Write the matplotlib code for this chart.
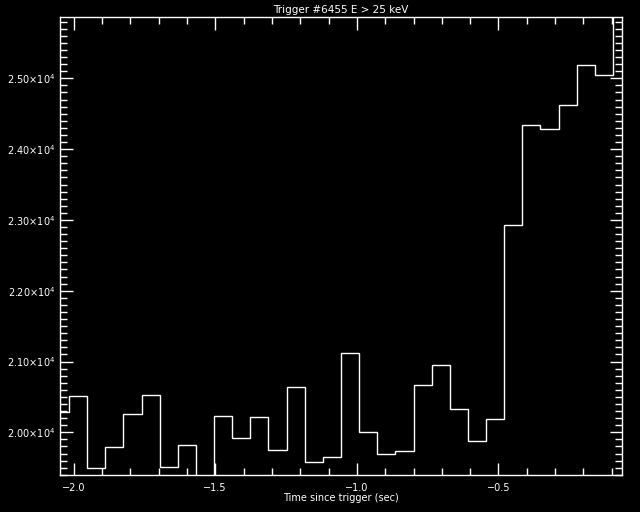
import numpy as np
import matplotlib
matplotlib.use("Agg")
import matplotlib.pyplot as plt
from matplotlib.ticker import MultipleLocator, FuncFormatter

# Bin edges: 0.064 s bins
bin_start = -2.080
bin_width = 0.064
counts = [20291, 20513, 19492, 19788, 20258, 20527, 19506, 19816,
          19340, 20230, 19915, 20212, 19746, 20636, 19576, 19647,
          21116, 20004, 19689, 19736, 20668, 20946, 20325, 19877,
          20184, 22924, 24336, 24280, 24619, 25184, 25042, 26100]
title = "Trigger #6455 E > 25 keV"
xlabel = "Time since trigger (sec)"
ylabel = "Counts per 0.064 sec"
xlim = (-2.048, -0.064)
ylim = (19397, 25866)

edges = bin_start + bin_width * np.arange(len(counts) + 1)

fg = "white"
fig = plt.figure(figsize=(6.4, 5.12), dpi=100, facecolor="black")
ax = fig.add_axes([60/640, 1-475/512, (622-60)/640, (475-17)/512], facecolor="black")

ax.stairs(counts, edges, color=fg, lw=1.0, baseline=None)
ax.set_xlim(*xlim)
ax.set_ylim(*ylim)

for s in ax.spines.values():
    s.set_color(fg)
    s.set_linewidth(1.0)

ax.xaxis.set_major_locator(MultipleLocator(0.5))
ax.xaxis.set_minor_locator(MultipleLocator(0.1))
ax.yaxis.set_major_locator(MultipleLocator(1000))
ax.yaxis.set_minor_locator(MultipleLocator(100))

def yfmt(v, pos):
    return r"%.2f$\times$10$^{4}$" % (v / 1e4)

def xfmt(v, pos):
    return ("%.1f" % v).replace("-", "\u2212")

ax.yaxis.set_major_formatter(FuncFormatter(yfmt))
ax.xaxis.set_major_formatter(FuncFormatter(xfmt))

ax.tick_params(which="both", direction="in", top=True, right=True,
               colors=fg, labelsize=7, width=1.0)
ax.tick_params(which="major", length=9)
ax.tick_params(which="minor", length=5)
ax.tick_params(axis="x", which="major", pad=6)
ax.tick_params(axis="y", which="major", pad=3)

ax.set_title(title, color=fg, fontsize=7.5, pad=3)
ax.set_xlabel(xlabel, color=fg, fontsize=7, labelpad=0)
fig.text(-0.008, 0.52, ylabel, color=fg, fontsize=7, rotation=90,
         ha="center", va="center")

fig.savefig("out.png", dpi=100, facecolor="black")
